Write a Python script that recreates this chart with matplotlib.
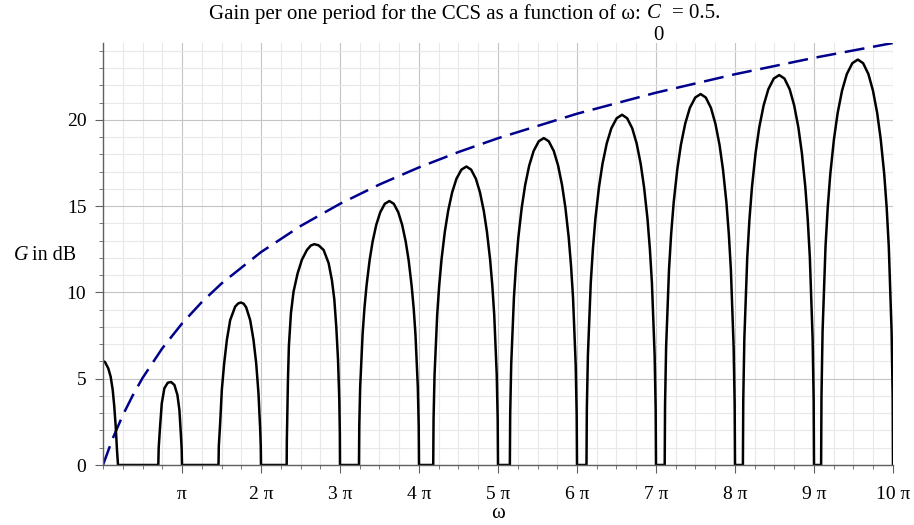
import numpy as np
import matplotlib.pyplot as plt
from matplotlib.ticker import MultipleLocator, FixedLocator

plt.rcParams['font.family'] = ['Liberation Serif', 'DejaVu Serif']

# gain curve, omega given in units of pi, one line per arch
curve_w_pi = [
    0.0, 0.025, 0.067, 0.097, 0.123, 0.143, 0.161, 0.177, 0.19,
    0.70, 0.705, 0.722, 0.744, 0.777, 0.82, 0.862, 0.904, 0.942, 0.967, 0.985, 0.996, 1.0,
    1.462, 1.466, 1.483, 1.504, 1.534, 1.568, 1.61, 1.673, 1.71, 1.745, 1.78, 1.812, 1.863, 1.905, 1.939, 1.968, 1.99, 1.997, 2.0,
    2.325, 2.327, 2.332, 2.341, 2.353, 2.379, 2.412, 2.463, 2.518, 2.581, 2.63, 2.675, 2.73, 2.793, 2.856, 2.898, 2.928, 2.953,
    2.975, 2.991, 2.998, 3.0,
    3.24, 3.2439, 3.2554, 3.2862, 3.3093, 3.3363, 3.3748, 3.4133, 3.4595, 3.5095, 3.567, 3.625,
    3.681, 3.7375, 3.7863, 3.8313, 3.8688, 3.9063, 3.9325, 3.955, 3.985, 3.9963, 4.0,
    4.18, 4.1842, 4.1968, 4.2304, 4.2556, 4.285, 4.327, 4.369, 4.4194, 4.474, 4.537, 4.60,
    4.66, 4.72, 4.772, 4.82, 4.86, 4.90, 4.928, 4.952, 4.984, 4.996, 5.0,
    5.15, 5.1543, 5.1672, 5.2016, 5.2274, 5.2575, 5.3005, 5.3435, 5.3951, 5.451, 5.5155, 5.58,
    5.643, 5.706, 5.7606, 5.811, 5.853, 5.895, 5.9244, 5.9496, 5.9832, 5.9958, 6.0,
    6.12, 6.1245, 6.138, 6.174, 6.201, 6.2325, 6.2775, 6.3225, 6.3765, 6.435, 6.5025, 6.57,
    6.6345, 6.699, 6.7549, 6.8065, 6.8495, 6.8925, 6.9226, 6.9484, 6.9828, 6.9957, 7.0,
    7.11, 7.1146, 7.1282, 7.1646, 7.1919, 7.2238, 7.2693, 7.3148, 7.3694, 7.4285, 7.4968, 7.565,
    7.6303, 7.6955, 7.7521, 7.8043, 7.8478, 7.8913, 7.9217, 7.9478, 7.9826, 7.9957, 8.0,
    8.10, 8.1046, 8.1184, 8.1552, 8.1828, 8.215, 8.261, 8.307, 8.3622, 8.422, 8.491, 8.56,
    8.626, 8.692, 8.7492, 8.802, 8.846, 8.89, 8.9208, 8.9472, 8.9824, 8.9956, 9.0,
    9.09, 9.0947, 9.1086, 9.1458, 9.1737, 9.2063, 9.2528, 9.2993, 9.355, 9.4155, 9.4853, 9.555,
    9.6218, 9.6885, 9.7464, 9.7998, 9.8443, 9.8888, 9.9199, 9.9466, 9.9822, 9.9956, 10.0,
]
curve_g_db = [
    6.02, 5.97, 5.6, 5.12, 4.35, 3.38, 2.22, 0.87, 0.0,
    0.0, 1.0, 2.2, 3.57, 4.45, 4.77, 4.81, 4.64, 4.06, 3.19, 1.84, 0.9, 0.0,
    0.0, 1.1, 2.42, 4.35, 5.9, 7.25, 8.4, 9.18, 9.36, 9.42, 9.35, 9.14, 8.4, 7.25, 5.9, 4.16, 2.03, 1.1, 0.0,
    0.0, 1.4, 2.6, 4.9, 6.9, 8.8, 10.05, 11.1, 11.9, 12.46, 12.72, 12.8, 12.73, 12.46, 11.7, 10.7, 9.6, 8.0,
    6.1, 3.8, 1.8, 0.0,
    0.0, 2.27, 4.53, 7.59, 9.09, 10.41, 11.87, 12.96, 13.93, 14.65, 15.14, 15.3,
    15.14, 14.65, 13.93, 12.96, 11.87, 10.41, 9.09, 7.59, 4.53, 2.27, 0.0,
    0.0, 2.65, 5.23, 8.72, 10.40, 11.91, 13.52, 14.73, 15.80, 16.59, 17.12, 17.3,
    17.12, 16.59, 15.80, 14.73, 13.52, 11.91, 10.40, 8.72, 5.23, 2.65, 0.0,
    0.0, 2.94, 5.84, 9.71, 11.55, 13.19, 14.92, 16.22, 17.36, 18.20, 18.76, 18.95,
    18.76, 18.20, 17.36, 16.22, 14.92, 13.19, 11.55, 9.71, 5.84, 2.94, 0.0,
    0.0, 3.23, 6.36, 10.55, 12.51, 14.26, 16.08, 17.45, 18.64, 19.52, 20.10, 20.3,
    20.10, 19.52, 18.64, 17.45, 16.08, 14.26, 12.51, 10.55, 6.36, 3.23, 0.0,
    0.0, 3.51, 6.86, 11.32, 13.40, 15.22, 17.13, 18.55, 19.78, 20.70, 21.30, 21.5,
    21.30, 20.70, 19.78, 18.55, 17.13, 15.22, 13.40, 11.32, 6.86, 3.51, 0.0,
    0.0, 3.76, 7.34, 12.05, 14.23, 16.12, 18.10, 19.57, 20.84, 21.78, 22.40, 22.6,
    22.40, 21.78, 20.84, 19.57, 18.10, 16.12, 14.23, 12.05, 7.34, 3.76, 0.0,
    0.0, 3.99, 7.75, 12.67, 14.92, 16.87, 18.89, 20.40, 21.70, 22.66, 23.29, 23.5,
    23.29, 22.66, 21.70, 20.40, 18.89, 16.87, 14.92, 12.67, 7.75, 3.99, 0.0,
]

# upper bound (dashed blue)
env_w_pi = [0, 0.125, 0.25, 0.375, 0.5, 0.75, 1, 1.25, 1.5, 2, 2.5, 3, 3.5, 4, 4.5, 5, 6, 7, 8, 9, 10]
env_g_db = [0, 1.56, 2.88, 4.02, 5.04, 6.76, 8.20, 9.44, 10.52, 12.34, 13.85, 15.14, 16.26, 17.25, 18.14,
            18.94, 20.36, 21.58, 22.65, 23.60, 24.46]

x_tick_labels = ["π", "2 π", "3 π", "4 π", "5 π", "6 π", "7 π", "8 π", "9 π", "10 π"]
y_ticks = [0, 5, 10, 15, 20]

W, H = 914, 525
FS = 15
fig = plt.figure(figsize=(W / 100, H / 100), dpi=100)
ax = fig.add_axes([103 / W, 1 - 465 / H, 790 / W, 422 / H])

ax.plot(np.array(env_w_pi) * np.pi, env_g_db, color='#00008c', lw=1.8, dashes=(8, 3.5))
ax.plot(np.array(curve_w_pi) * np.pi, curve_g_db, color='black', lw=1.8, solid_joinstyle='round')

ax.set_xlim(0, 10 * np.pi)
ax.set_ylim(0, 24.46)

ax.xaxis.set_major_locator(FixedLocator([k * np.pi for k in range(1, 11)]))
ax.set_xticklabels(x_tick_labels)
ax.xaxis.set_minor_locator(MultipleLocator(np.pi / 4))
ax.set_yticks(y_ticks)
ax.yaxis.set_minor_locator(MultipleLocator(1))

ax.set_axisbelow(True)
ax.grid(which='major', color='#c4c4c4', lw=0.8)
ax.grid(which='minor', color='#e8e8e8', lw=0.8)

for s in ['top', 'right']:
    ax.spines[s].set_visible(False)
for s in ['left', 'bottom']:
    ax.spines[s].set_color('#606060')
    ax.spines[s].set_linewidth(1.0)

ax.tick_params(which='both', direction='out', colors='#606060', labelcolor='black', labelsize=14)
ax.tick_params(which='major', length=6)
ax.tick_params(which='minor', length=3)
ax.tick_params(axis='x', pad=9)
ax.tick_params(axis='y', pad=6)

# title, pieced together to get the low subscript like the original
ty = 1 - 14 / H
fig.text(646 / W, ty, "Gain per one period for the CCS as a function of ω: ", ha='right', va='center', fontsize=FS)
fig.text(647 / W, ty, "C", ha='left', va='center', fontsize=FS, style='italic')
fig.text(658 / W, 1 - 36 / H, "0", ha='center', va='center', fontsize=FS)
fig.text(672 / W, ty, "= 0.5.", ha='left', va='center', fontsize=FS)

fig.text(14 / W, 1 - 256 / H, "G", ha='left', va='center', fontsize=14.5, style='italic')
fig.text(32 / W, 1 - 256 / H, "in dB", ha='left', va='center', fontsize=14.5)
fig.text(498 / W, 1 - 513 / H, "ω", ha='center', va='center', fontsize=FS)

fig.savefig("out.png", dpi=100)
